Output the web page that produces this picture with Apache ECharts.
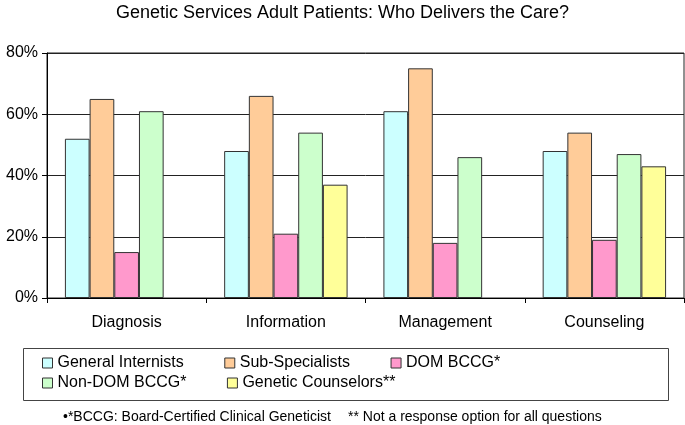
<!DOCTYPE html>
<html>
<head>
<meta charset="utf-8">
<script src="https://cdn.jsdelivr.net/npm/echarts@6/dist/echarts.min.js"></script>
<style>
  html, body { margin: 0; padding: 0; background: #fff; }
  #chart { width: 685px; height: 425px; }
</style>
</head>
<body>
<div id="chart"></div>
<script>
// data (percent)
var categories = ['Diagnosis', 'Information', 'Management', 'Counseling'];
var generalInternists = [52, 48, 61, 48];
var subSpecialists = [65, 66, 75, 54];
var domBccg = [15, 21, 18, 19];
var nonDomBccg = [61, 54, 46, 47];
var geneticCounselors = [null, 37, null, 43];   // not asked for every question

var seriesNames = ['General Internists', 'Sub-Specialists', 'DOM BCCG*', 'Non-DOM BCCG*', 'Genetic Counselors**'];
var seriesColors = ['#CCFFFF', '#FFCC99', '#FF99CC', '#CCFFCC', '#FFFF99'];
var seriesData = [generalInternists, subSpecialists, domBccg, nonDomBccg, geneticCounselors];

var font = "'Liberation Sans', Arial, sans-serif";
var myChart = echarts.init(document.getElementById('chart'));

var series = [];
for (var i = 0; i < seriesNames.length; i++) {
    series.push({
        name: seriesNames[i],
        type: 'bar',
        data: seriesData[i],
        barGap: '0%',
        barCategoryGap: '22.5%',
        itemStyle: {
            color: seriesColors[i],
            borderColor: '#333',
            borderWidth: 1
        }
    });
}

var legendBase = {
    left: 42,
    padding: 0,
    icon: 'rect',
    itemWidth: 10,
    itemHeight: 10,
    itemGap: 40.5,
    selectedMode: false,
    itemStyle: { borderColor: '#333', borderWidth: 1 },
    textStyle: { fontFamily: font, fontSize: 16, color: '#000', width: 160 }
};

var option = {
    backgroundColor: '#fff',
    animation: false,
    title: [{
        text: 'Genetic Services Adult Patients: Who Delivers the Care?',
        left: 'center',
        top: 4,
        padding: 0,
        textStyle: { fontFamily: font, fontSize: 18, fontWeight: 'normal', color: '#000' }
    }, {
        text: '•*BCCG: Board-Certified Clinical Geneticist',
        left: 63,
        top: 410,
        padding: 0,
        textStyle: { fontFamily: font, fontSize: 14, fontWeight: 'normal', color: '#000' }
    }, {
        text: '** Not a response option for all questions',
        left: 348,
        top: 410,
        padding: 0,
        textStyle: { fontFamily: font, fontSize: 14, fontWeight: 'normal', color: '#000' }
    }],
    legend: [
        Object.assign({}, legendBase, { top: 355, data: seriesNames.slice(0, 3) }),
        Object.assign({}, legendBase, { top: 375, data: seriesNames.slice(3) })
    ],
    // box round the legend
    graphic: [{
        type: 'rect',
        left: 21,
        top: 346,
        shape: { width: 645, height: 52 },
        style: { fill: 'none', stroke: '#444', lineWidth: 1 }
    }],
    grid: {
        left: 47,
        right: 1,
        top: 53,
        bottom: 127,
        show: true,
        borderColor: '#222',
        borderWidth: 1
    },
    xAxis: {
        type: 'category',
        data: categories,
        axisLine: { lineStyle: { color: '#000', width: 1 } },
        axisTick: { show: true, length: 5, lineStyle: { color: '#000' } },
        axisLabel: { fontFamily: font, fontSize: 16, color: '#000', margin: 17 }
    },
    yAxis: {
        type: 'value',
        min: 0,
        max: 80,
        interval: 20,
        axisLine: { show: true, lineStyle: { color: '#000', width: 1 } },
        axisTick: { show: true, length: 5, lineStyle: { color: '#000' } },
        axisLabel: { fontFamily: font, fontSize: 16, color: '#000', margin: 9, formatter: '{value}%' },
        splitLine: { lineStyle: { color: '#222', width: 1 } }
    },
    series: series
};

myChart.setOption(option);
</script>
</body>
</html>
